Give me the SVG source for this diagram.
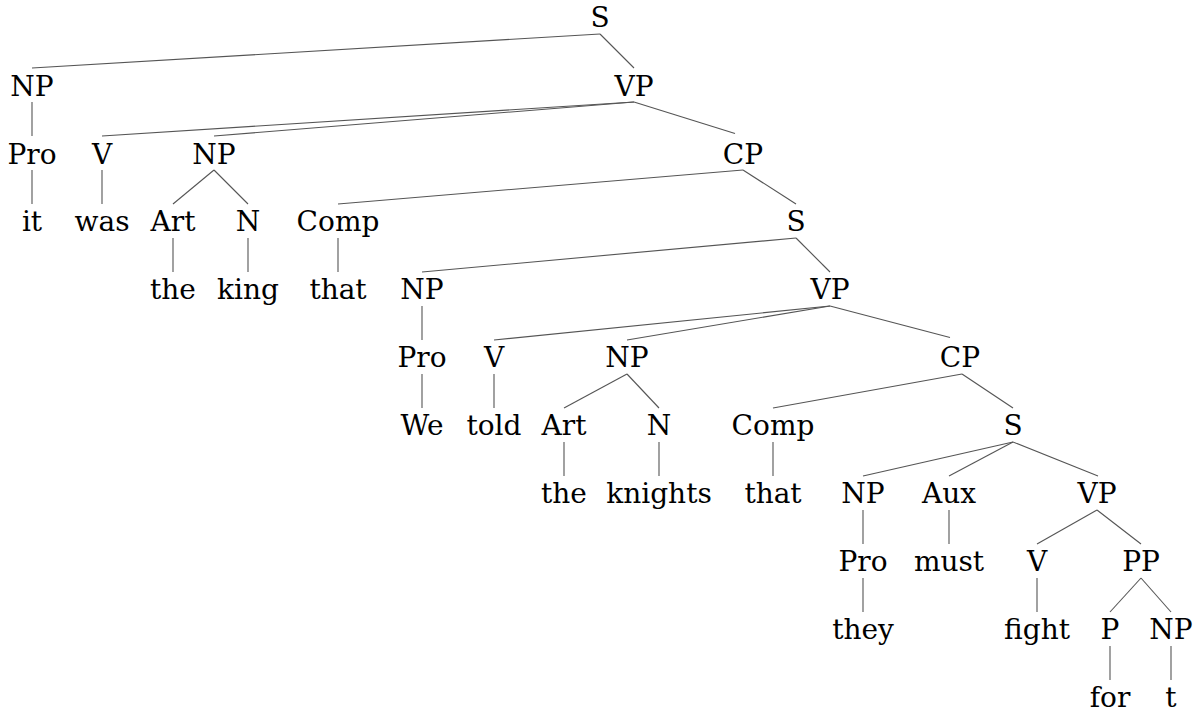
<svg xmlns="http://www.w3.org/2000/svg" width="1195" height="710" viewBox="0 0 1195 710">
<style>
text{font-family:"DejaVu Serif","Liberation Serif",serif;font-size:28px;fill:#000;text-anchor:middle}
.edges line{stroke:#555;stroke-width:1.1}
</style>
<rect width="1195" height="710" fill="#fff"/>
<g class="edges" id="connectors">
<line x1="600" y1="34" x2="32" y2="68"/>
<line x1="600" y1="34" x2="634" y2="68"/>
<line x1="32" y1="102" x2="32" y2="136"/>
<line x1="634" y1="102" x2="102" y2="136"/>
<line x1="634" y1="102" x2="214" y2="136"/>
<line x1="634" y1="102" x2="735" y2="133.5"/>
<line x1="32" y1="170" x2="32" y2="204"/>
<line x1="102" y1="170" x2="102" y2="204"/>
<line x1="214" y1="170" x2="173" y2="204"/>
<line x1="214" y1="170" x2="248" y2="204"/>
<line x1="743" y1="170" x2="338" y2="204"/>
<line x1="743" y1="170" x2="796" y2="204"/>
<line x1="173" y1="238" x2="173" y2="272"/>
<line x1="248" y1="238" x2="248" y2="272"/>
<line x1="338" y1="238" x2="338" y2="272"/>
<line x1="796" y1="238" x2="422" y2="272"/>
<line x1="796" y1="238" x2="830" y2="272"/>
<line x1="422" y1="306" x2="422" y2="340"/>
<line x1="830" y1="306" x2="494" y2="340"/>
<line x1="830" y1="306" x2="627" y2="340"/>
<line x1="830" y1="306" x2="950" y2="337.5"/>
<line x1="422" y1="374" x2="422" y2="408"/>
<line x1="494" y1="374" x2="494" y2="408"/>
<line x1="627" y1="374" x2="564" y2="408"/>
<line x1="627" y1="374" x2="659" y2="408"/>
<line x1="962" y1="374" x2="773" y2="408"/>
<line x1="962" y1="374" x2="1013" y2="408"/>
<line x1="564" y1="442" x2="564" y2="476"/>
<line x1="659" y1="442" x2="659" y2="476"/>
<line x1="773" y1="442" x2="773" y2="476"/>
<line x1="1013" y1="442" x2="863" y2="476"/>
<line x1="1013" y1="442" x2="949" y2="476"/>
<line x1="1013" y1="442" x2="1098" y2="476"/>
<line x1="863" y1="510" x2="863" y2="544"/>
<line x1="949" y1="510" x2="949" y2="544"/>
<line x1="1097" y1="510" x2="1037" y2="544"/>
<line x1="1097" y1="510" x2="1141" y2="544"/>
<line x1="863" y1="578" x2="863" y2="612"/>
<line x1="1037" y1="578" x2="1037" y2="612"/>
<line x1="1141" y1="578" x2="1110" y2="612"/>
<line x1="1141" y1="578" x2="1171" y2="612"/>
<line x1="1110" y1="646" x2="1110" y2="680"/>
<line x1="1171" y1="646" x2="1171" y2="680"/>
</g>
<g id="n-S0"><text x="600" y="27">S</text></g>
<g id="n-NP1"><text x="32" y="96">NP</text></g>
<g id="n-VP1"><text x="634" y="96">VP</text></g>
<g id="n-Pro2"><text x="32" y="164">Pro</text></g>
<g id="n-V2"><text x="102" y="164">V</text></g>
<g id="n-NP2"><text x="214" y="164">NP</text></g>
<g id="n-CP2"><text x="743" y="164">CP</text></g>
<g id="n-it"><text x="32" y="231">it</text></g>
<g id="n-was"><text x="102" y="231">was</text></g>
<g id="n-Art3"><text x="173" y="231">Art</text></g>
<g id="n-N3"><text x="248" y="231">N</text></g>
<g id="n-Comp3"><text x="338" y="231">Comp</text></g>
<g id="n-S3"><text x="796" y="231">S</text></g>
<g id="n-the1"><text x="173" y="299">the</text></g>
<g id="n-king"><text x="248" y="299">king</text></g>
<g id="n-that1"><text x="338" y="299">that</text></g>
<g id="n-NP4"><text x="422" y="299">NP</text></g>
<g id="n-VP4"><text x="830" y="299">VP</text></g>
<g id="n-Pro5"><text x="422" y="367">Pro</text></g>
<g id="n-V5"><text x="494" y="367">V</text></g>
<g id="n-NP5"><text x="627" y="367">NP</text></g>
<g id="n-CP5"><text x="960" y="367">CP</text></g>
<g id="n-We"><text x="422" y="435">We</text></g>
<g id="n-told"><text x="494" y="435">told</text></g>
<g id="n-Art6"><text x="564" y="435">Art</text></g>
<g id="n-N6"><text x="659" y="435">N</text></g>
<g id="n-Comp6"><text x="773" y="435">Comp</text></g>
<g id="n-S6"><text x="1013" y="435">S</text></g>
<g id="n-the2"><text x="564" y="503">the</text></g>
<g id="n-knights"><text x="659" y="503">knights</text></g>
<g id="n-that2"><text x="773" y="503">that</text></g>
<g id="n-NP7"><text x="863" y="503">NP</text></g>
<g id="n-Aux"><text x="949" y="503">Aux</text></g>
<g id="n-VP7"><text x="1097" y="503">VP</text></g>
<g id="n-Pro8"><text x="863" y="571">Pro</text></g>
<g id="n-must"><text x="949" y="571">must</text></g>
<g id="n-V8"><text x="1037" y="571">V</text></g>
<g id="n-PP"><text x="1141" y="571">PP</text></g>
<g id="n-they"><text x="863" y="639">they</text></g>
<g id="n-fight"><text x="1037" y="639">fight</text></g>
<g id="n-P"><text x="1110" y="639">P</text></g>
<g id="n-NP9"><text x="1171" y="639">NP</text></g>
<g id="n-for"><text x="1110" y="707">for</text></g>
<g id="n-t"><text x="1171" y="707">t</text></g>
</svg>
